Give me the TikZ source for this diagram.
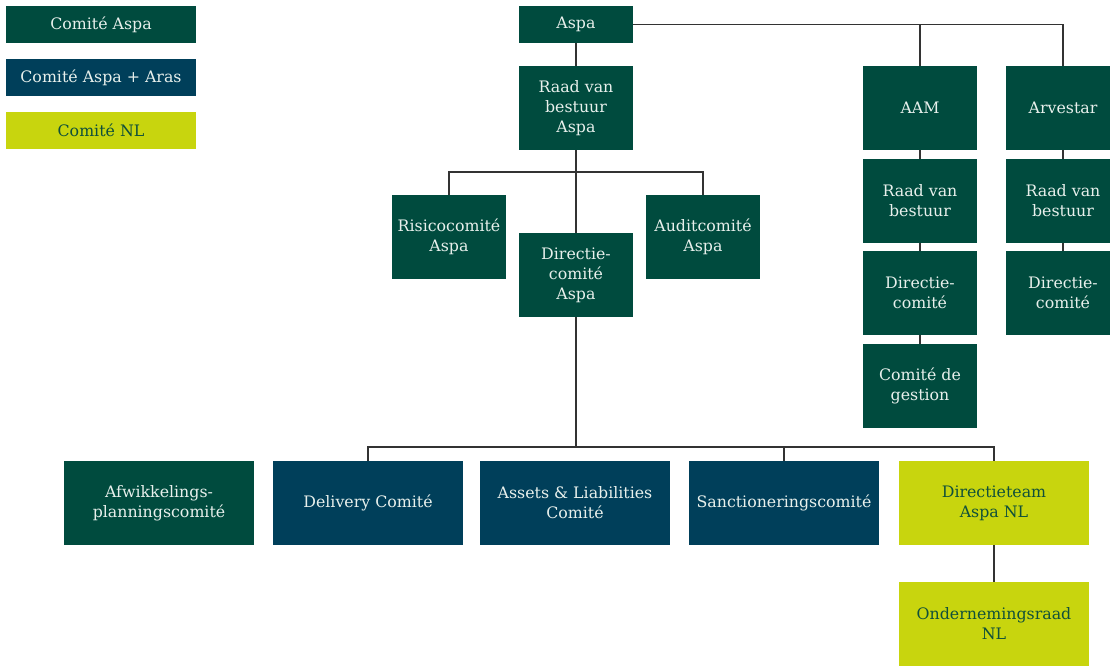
\documentclass[tikz,border=0pt]{standalone}
\usepackage{fontspec}
\setmainfont{DejaVu Serif}
\usetikzlibrary{positioning}
\definecolor{aspagreen}{RGB}{0,75,62}
\definecolor{arasblue}{RGB}{0,63,90}
\definecolor{nllime}{RGB}{200,213,14}
\definecolor{lighttext}{RGB}{232,240,236}
\definecolor{nltext}{RGB}{16,80,58}

\begin{document}
\begin{tikzpicture}[
  x=1pt, y=-1pt,
  every node/.style={font=\fontsize{15.8}{20}\selectfont},
  box/.style={inner sep=0pt, outer sep=0pt, align=center,
              minimum width=114pt, minimum height=84pt},
  aspabox/.style={box, fill=aspagreen, text=lighttext},
  arasbox/.style={box, fill=arasblue, text=lighttext},
  nlbox/.style={box, fill=nllime, text=nltext},
  wide/.style={minimum width=190pt},
  flat/.style={minimum height=37pt},
  link/.style={line width=1.1pt, draw=black!80},
]
  \useasboundingbox (0,0) rectangle (1110,666);
  % legend
  \node[aspabox, wide, flat, anchor=north west] (legaspa) at (6,6) {Comité Aspa};
  \node[arasbox, wide, flat, below=16pt of legaspa] (legaras) {Comité Aspa + Aras};
  \node[nlbox, wide, flat, below=16pt of legaras] (legnl) {Comité NL};
  % Aspa
  \node[aspabox, flat, anchor=north west] (aspa) at (519,6) {Aspa};
  \node[aspabox, below=23pt of aspa] (raad) {Raad van\\bestuur\\Aspa};
  \node[aspabox, below=83pt of raad] (directie) {Directie-\\comité\\Aspa};
  \node[aspabox, left=13pt of directie, yshift=38pt] (risico) {Risicocomité\\Aspa};
  \node[aspabox, right=13pt of directie, yshift=38pt] (audit) {Auditcomité\\Aspa};
  % AAM and Arvestar
  \node[aspabox, anchor=north west] (aam) at (863,66) {AAM};
  \node[aspabox, below=8.5pt of aam] (aamraad) {Raad van\\bestuur};
  \node[aspabox, below=8.5pt of aamraad] (aamdir) {Directie-\\comité};
  \node[aspabox, below=8.5pt of aamdir] (aamgest) {Comité de\\gestion};
  \node[aspabox, right=29pt of aam] (arv) {Arvestar};
  \node[aspabox, below=8.5pt of arv] (arvraad) {Raad van\\bestuur};
  \node[aspabox, below=8.5pt of arvraad] (arvdir) {Directie-\\comité};
  % bottom row
  \node[aspabox, wide, anchor=north west] (afw) at (64,461) {Afwikkelings-\\planningscomité};
  \node[arasbox, wide, right=19pt of afw] (delivery) {Delivery Comité};
  \node[arasbox, wide, right=17pt of delivery] (assets) {Assets \& Liabilities\\Comité};
  \node[arasbox, wide, right=19pt of assets] (sanction) {Sanctioneringscomité};
  \node[nlbox, wide, right=20pt of sanction] (dirnl) {Directieteam\\Aspa NL};
  \node[nlbox, wide, below=37pt of dirnl] (ondraad) {Ondernemingsraad\\NL};
  \coordinate (lowbus) at ([yshift=14pt]assets.north);

  \draw[link] (aspa.east) -| (aam.north);
  \draw[link] (aspa.east) -| (arv.north);
  \draw[link] (aspa) -- (raad);
  \draw[link] (raad) -- (directie);
  \draw[link] (risico.north) |- ([yshift=-22pt]raad.south) -| (audit.north);
  \draw[link] (directie.south) -- (directie.south |- lowbus);
  \draw[link] (delivery.north) |- (lowbus) -| (dirnl.north);
  \draw[link] (sanction.north) -- (sanction.north |- lowbus);
  \draw[link] (aam) -- (aamraad) -- (aamdir) -- (aamgest);
  \draw[link] (arv) -- (arvraad) -- (arvdir);
  \draw[link] (dirnl) -- (ondraad);
\end{tikzpicture}
\end{document}
